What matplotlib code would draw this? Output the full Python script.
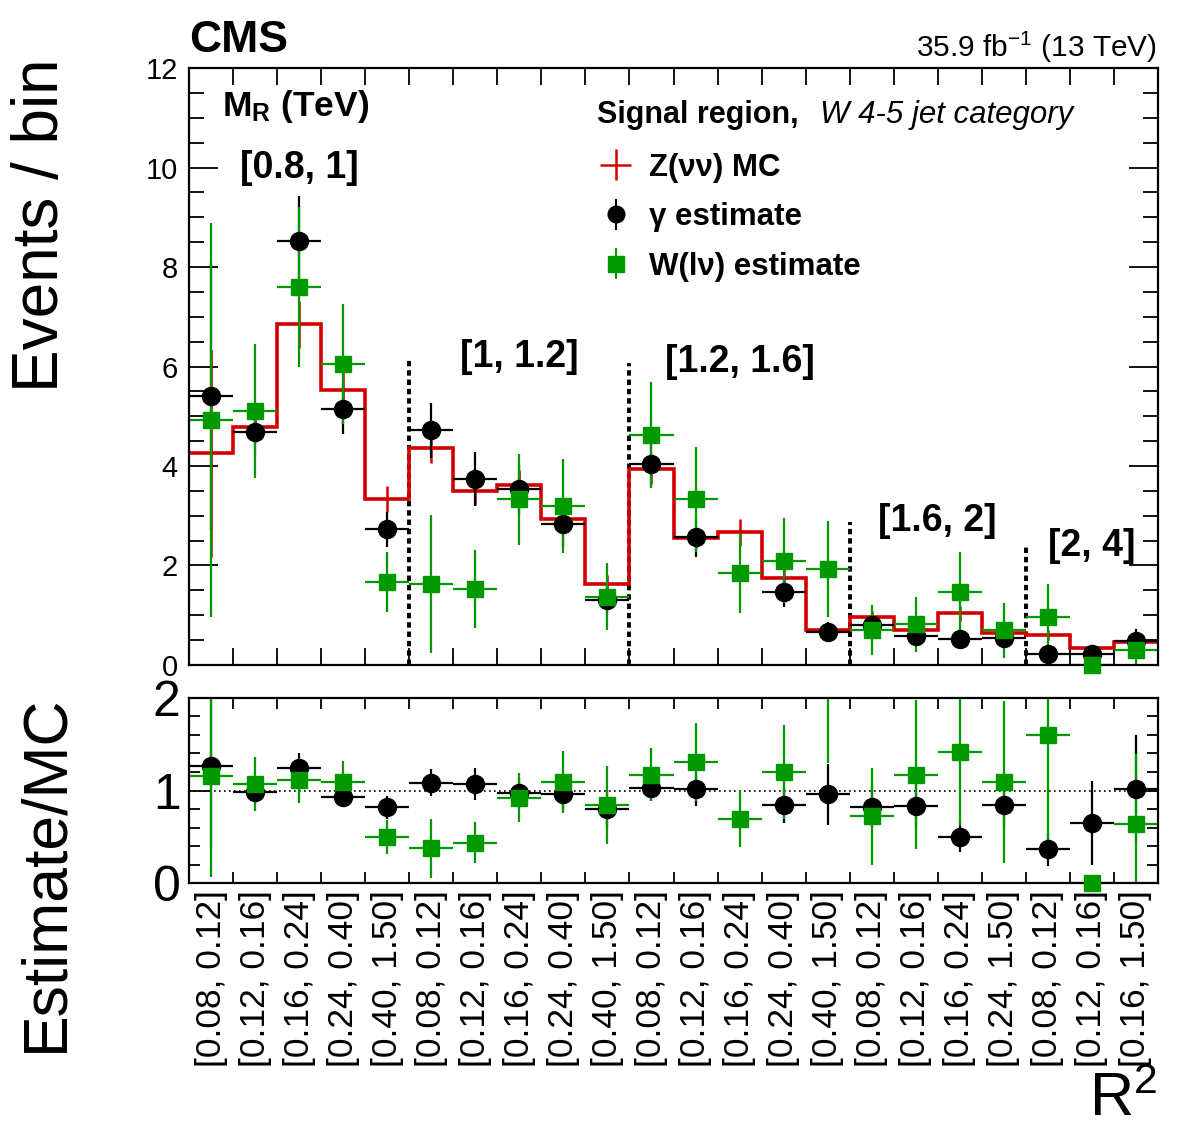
import numpy as np
import matplotlib
matplotlib.use("Agg")
import matplotlib.pyplot as plt
from matplotlib.ticker import MultipleLocator, FixedLocator

plt.rcParams['font.family'] = ['Liberation Sans', 'DejaVu Sans']
plt.rcParams['mathtext.fontset'] = 'custom'
plt.rcParams['mathtext.rm'] = 'Liberation Sans'
plt.rcParams['mathtext.bf'] = 'Liberation Sans:bold'
plt.rcParams['mathtext.default'] = 'regular'

# R2 bin labels, 22 bins grouped in MR ranges
r2_labels = ["[0.08, 0.12]", "[0.12, 0.16]", "[0.16, 0.24]", "[0.24, 0.40]", "[0.40, 1.50]",
             "[0.08, 0.12]", "[0.12, 0.16]", "[0.16, 0.24]", "[0.24, 0.40]", "[0.40, 1.50]",
             "[0.08, 0.12]", "[0.12, 0.16]", "[0.16, 0.24]", "[0.24, 0.40]", "[0.40, 1.50]",
             "[0.08, 0.12]", "[0.12, 0.16]", "[0.16, 0.24]", "[0.24, 1.50]",
             "[0.08, 0.12]", "[0.12, 0.16]", "[0.16, 1.50]"]
mr_groups = ["[0.8, 1]", "[1, 1.2]", "[1.2, 1.6]", "[1.6, 2]", "[2, 4]"]
group_sizes = [5, 5, 5, 4, 3]
divider_heights = [6.13, 6.07, 2.87, 2.37]
label_heights = [10.0, 6.19, 6.09, 2.9, 2.39]

# Z(nunu) MC
mc = np.array([4.26, 4.78, 6.85, 5.53, 3.34, 4.36, 3.50, 3.62, 2.93, 1.63,
               3.94, 2.55, 2.67, 1.75, 0.70, 0.97, 0.70, 1.04, 0.64, 0.60, 0.34, 0.47])
mc_err = np.array([2.08, 0.30, 0.47, 0.35, 0.26, 0.30, 0.28, 0.30, 0.25, 0.18,
                   0.30, 0.20, 0.27, 0.20, 0.12, 0.12, 0.10, 0.15, 0.10, 0.10, 0.06, 0.10])
# gamma estimate
gam = np.array([5.41, 4.68, 8.52, 5.15, 2.73, 4.72, 3.74, 3.53, 2.83, 1.31,
                4.04, 2.58, np.nan, 1.47, 0.67, 0.80, 0.58, 0.52, 0.54, 0.22, 0.22, 0.48])
gam_err = np.array([2.70, 0.45, 0.90, 0.50, 0.35, 0.55, 0.54, 0.50, 0.45, 0.30,
                    0.45, 0.40, np.nan, 0.30, 0.20, 0.20, 0.15, 0.15, 0.15, 0.10, 0.15, 0.25])
# W(lnu) estimate
wln = np.array([4.92, 5.10, 7.60, 6.05, 1.67, 1.63, 1.53, 3.33, 3.20, 1.37,
                4.62, 3.33, 1.85, 2.10, 1.93, 0.70, 0.82, 1.47, 0.70, 0.96, 0.0, 0.30])
wln_err = np.array([3.96, 1.35, 1.60, 1.20, 0.60, 1.38, 0.78, 0.92, 0.95, 0.67,
                    1.07, 1.05, 0.80, 0.85, 0.97, 0.50, 0.55, 0.80, 0.55, 0.67, 0.0, 0.35])

RED = '#d40000'
GREEN = '#009900'
nb = len(mc)
edges = np.arange(nb + 1)
x = np.arange(nb) + 0.5

fig = plt.figure(figsize=(11.82, 11.34), dpi=100)
ax1 = fig.add_axes([0.1599, 0.4136, 0.8198, 0.5264])
ax2 = fig.add_axes([0.1599, 0.2213, 0.8198, 0.1632])


def style(ax, xlen, ymaj, ymin_len):
    for s in ax.spines.values():
        s.set_linewidth(1.6)
    ax.tick_params(axis='x', which='major', direction='in', top=True, bottom=True,
                   length=xlen, width=1.3, labelbottom=False)
    ax.tick_params(axis='y', which='major', direction='in', left=True, right=True,
                   length=ymaj, width=1.3)
    ax.tick_params(axis='y', which='minor', direction='in', left=True, right=True,
                   length=ymin_len, width=1.3)
    ax.xaxis.set_major_locator(FixedLocator(edges))
    ax.set_xlim(0, nb)


def draw_points(ax, yv, ye, color, marker, ms, ymax):
    ax.errorbar(x, yv, xerr=0.5, yerr=ye, fmt='none', ecolor=color, elinewidth=1.6, capsize=0)
    ok = (yv >= 0) & (yv <= ymax)
    ax.plot(x[ok], yv[ok], ls='none', marker=marker, ms=ms, color=color, mec=color,
            clip_on=False, zorder=4)


# ---- top panel
style(ax1, 12, 21, 11)
ax1.set_ylim(0, 12)
ax1.yaxis.set_major_locator(MultipleLocator(2))
ax1.yaxis.set_minor_locator(MultipleLocator(0.5))
ax1.tick_params(axis='y', labelsize=21, pad=8)

ax1.stairs(mc, edges, color=RED, lw=2.6, baseline=None, zorder=2)
ax1.errorbar(x, mc, yerr=mc_err, fmt='none', ecolor=RED, elinewidth=1.8, capsize=0, zorder=2)
draw_points(ax1, gam, gam_err, 'black', 'o', 13, 12)
draw_points(ax1, wln, wln_err, GREEN, 's', 11.5, 12)

bounds = np.cumsum(group_sizes)
for b, h in zip(bounds[:-1], divider_heights):
    ax1.plot([b, b], [0, h], color='black', ls=(0, (1.4, 1.0)), lw=2.8, zorder=1)
starts = np.concatenate([[0], bounds[:-1]])
for s, b, lab, h in zip(starts, bounds, mr_groups, label_heights):
    ax1.text((s + b) / 2, h, lab, ha='center', va='center', fontsize=27, fontweight='bold')

ax1.text(0.034, 0.935, r'M$_{\mathbf{R}}$ (TeV)', transform=ax1.transAxes,
         ha='left', va='center', fontsize=25.5, fontweight='bold')

# legend
ax1.text(0.421, 0.921, 'Signal region,', transform=ax1.transAxes, ha='left', va='center',
         fontsize=22, fontweight='bold')
ax1.text(0.651, 0.921, 'W 4-5 jet category', transform=ax1.transAxes, ha='left', va='center',
         fontsize=22.5, fontstyle='italic')
h_mc = ax1.errorbar([np.nan], [np.nan], xerr=[1], yerr=[1], fmt='none', ecolor=RED,
                    elinewidth=1.8, capsize=0)
h_g = ax1.errorbar([np.nan], [np.nan], yerr=[1], fmt='o', color='black', ms=12,
                   elinewidth=1.5, capsize=0)
h_w = ax1.errorbar([np.nan], [np.nan], yerr=[1], fmt='s', color=GREEN, ms=11,
                   elinewidth=1.5, capsize=0)
leg = ax1.legend([h_mc, h_g, h_w], ['Z(νν) MC', 'γ estimate', 'W(lν) estimate'],
                 loc='upper left', bbox_to_anchor=(0.405, 0.879), frameon=False,
                 prop={'size': 22.5, 'weight': 'bold'}, handlelength=1.4, handletextpad=0.35,
                 labelspacing=0.62, borderaxespad=0)

# ---- ratio panel
style(ax2, 8, 16, 8)
ax2.set_ylim(0, 2)
ax2.yaxis.set_major_locator(MultipleLocator(1))
ax2.yaxis.set_minor_locator(MultipleLocator(0.2))
ax2.tick_params(axis='y', labelsize=36, pad=6)
ax2.set_xticks(x, minor=True)
ax2.set_xticklabels(r2_labels, minor=True, rotation=90, fontsize=25.5)
ax2.tick_params(axis='x', which='minor', length=0, pad=5)
ax2.axhline(1, color='black', ls=(0, (1, 2)), lw=1.2, zorder=1)

r_g = gam / mc
r_g_err = np.sqrt((gam_err / mc) ** 2 + (r_g * mc_err / mc) ** 2)
r_w = wln / mc
r_w_err = np.sqrt((wln_err / mc) ** 2 + (r_w * mc_err / mc) ** 2)
draw_points(ax2, r_g, r_g_err, 'black', 'o', 13, 2)
draw_points(ax2, r_w, r_w_err, GREEN, 's', 11.5, 2)

# ---- labels
fig.text(0.1599, 1 - 52 / 1134, 'CMS', ha='left', va='baseline', fontsize=32, fontweight='bold')
fig.text(0.979, 1 - 57 / 1134, r'35.9 fb$^{-1}$ (13 TeV)', ha='right', va='baseline', fontsize=21.5)
fig.text(0.035, 1 - 58 / 1134, 'Events / bin', rotation=90, ha='center', va='top', fontsize=46)
fig.text(0.039, 1 - 694 / 1134, 'Estimate/MC', rotation=90, ha='center', va='top', fontsize=45)
fig.text(0.979, 0.004, r'R$^{2}$', ha='right', va='bottom', fontsize=44)

fig.savefig('out.png', dpi=100)
